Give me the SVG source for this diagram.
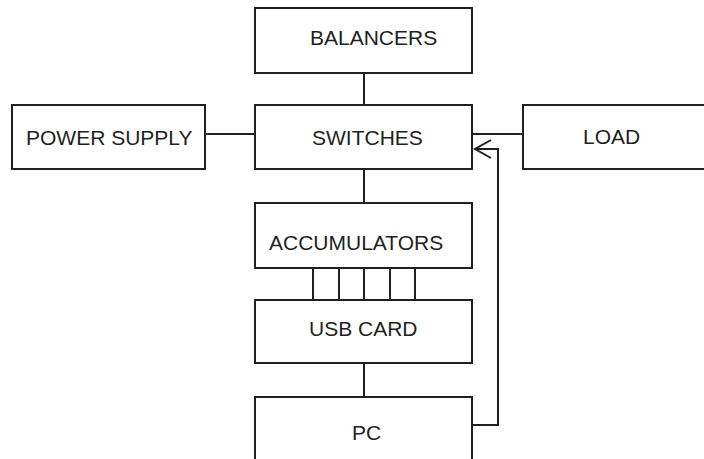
<svg xmlns="http://www.w3.org/2000/svg" width="704" height="459" viewBox="0 0 704 459">
<style>
.box{fill:#fff;stroke:#231f20;stroke-width:2}
.lbl{font-family:"Liberation Sans",Arial,sans-serif;font-size:21px;fill:#231f20}
.c{fill:none;stroke:#231f20;stroke-width:2}
</style>
<rect width="704" height="459" fill="#fff"/>
<g id="connectors">
<line class="c" x1="364" y1="73" x2="364" y2="105"/>
<line class="c" x1="205" y1="134" x2="255" y2="134"/>
<line class="c" x1="472" y1="134" x2="523" y2="134"/>
<line class="c" x1="364" y1="169" x2="364" y2="203"/>
<line class="c" x1="313" y1="268" x2="313" y2="300"/>
<line class="c" x1="339" y1="268" x2="339" y2="300"/>
<line class="c" x1="364" y1="268" x2="364" y2="300"/>
<line class="c" x1="390" y1="268" x2="390" y2="300"/>
<line class="c" x1="415" y1="268" x2="415" y2="300"/>
<line class="c" x1="364" y1="363" x2="364" y2="397"/>
<polyline class="c" points="473,425 498,425 498,149 475,149"/>
<polyline class="c" stroke-width="2.3" points="491,140 475,149 491,158"/>
</g>
<g id="balancers"><rect class="box" x="255" y="8" width="217" height="65"/><text class="lbl" x="310" y="45">BALANCERS</text></g>
<g id="power-supply"><rect class="box" x="12" y="105" width="193" height="64"/><text class="lbl" x="26" y="145">POWER SUPPLY</text></g>
<g id="switches"><rect class="box" x="255" y="105" width="217" height="64"/><text class="lbl" x="312" y="145">SWITCHES</text></g>
<g id="load"><rect class="box" x="523" y="105" width="190" height="64"/><text class="lbl" x="583" y="144">LOAD</text></g>
<g id="accumulators"><rect class="box" x="255" y="203" width="217" height="65"/><text class="lbl" x="269" y="250">ACCUMULATORS</text></g>
<g id="usb-card"><rect class="box" x="255" y="300" width="217" height="63"/><text class="lbl" x="309" y="336">USB CARD</text></g>
<g id="pc"><rect class="box" x="255" y="397" width="217" height="70"/><text class="lbl" x="352" y="440">PC</text></g>
</svg>
